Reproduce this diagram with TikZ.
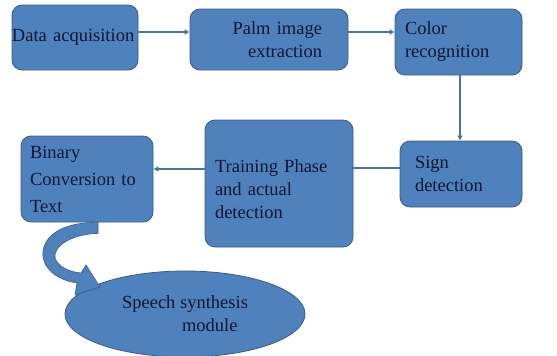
\documentclass[tikz,border=0pt]{standalone}
\usepackage{fontspec}
\setmainfont{Liberation Serif}
\usepackage{tikz}
\usetikzlibrary{shapes.geometric, arrows.meta}
\definecolor{boxblue}{RGB}{79,129,189}
\definecolor{boxedge}{RGB}{56,93,138}
\definecolor{arrowblue}{RGB}{70,115,170}
\definecolor{textnavy}{RGB}{14,22,52}

\begin{document}
\begin{tikzpicture}[x=1pt, y=-1pt,
        stagebox/.style={rectangle, rounded corners=10pt, fill=boxblue, draw=boxedge,
            line width=0.8pt, inner sep=0pt, text=textnavy,
            font=\fontsize{18.5}{23}\selectfont},
        flowline/.style={draw=arrowblue, line width=2.4pt},
        flowarrow/.style={flowline, -{Latex[length=5pt,width=6pt]}}
    ]
        % page frame of the reference
        \useasboundingbox (0,0) rectangle (557,356);

        % Stages, top row
        \node[stagebox, minimum width=126pt, minimum height=65pt, text width=126pt, align=left]
            (acq) at (75,37.5) {Data acquisition};
        \node[stagebox, minimum width=158pt, minimum height=61pt, text width=106pt, align=right]
            (palm) at (269,39.5) {Palm image\\extraction};
        \node[stagebox, minimum width=127pt, minimum height=66pt, text width=107pt, align=left]
            (color) at (458.5,42) {Color\\recognition};

        % Stages, second row
        \node[stagebox, minimum width=122pt, minimum height=66pt, text width=92pt, align=left]
            (sign) at (461,174) {Sign\\detection};
        \node[stagebox, minimum width=148pt, minimum height=127pt, text width=128pt, align=left,
            text depth=34pt]
            (train) at (279,183.5) {Training Phase\\and actual\\detection};
        \node[stagebox, minimum width=132pt, minimum height=86pt, text width=114pt, align=left,
            font=\fontsize{18.5}{27}\selectfont]
            (binary) at (87,179) {Binary\\Conversion to\\Text};

        % Output
        \node[stagebox, ellipse, minimum width=240pt, minimum height=86pt, align=left]
            (speech) at (185,314) {Speech synthesis\\\hspace*{60pt}module};

        % Connectors
        \draw[flowarrow] ([yshift=5.5pt]acq.east) -- ([yshift=5.5pt]acq.east -| palm.west);
        \draw[flowarrow] ([yshift=7.5pt]palm.east) -- ([yshift=7.5pt]palm.east -| color.west);
        \draw[flowarrow] ([xshift=1.5pt]color.south) -- ([xshift=1.5pt]color.south |- sign.north);
        \draw[flowline] ([yshift=6pt]sign.west) -- ([yshift=6pt]sign.west -| train.east);
        \draw[flowarrow] ([yshift=14.5pt]train.west) -- ([yshift=14.5pt]train.west -| binary.east);

        % Curved block arrow down to the speech module
        \coordinate (cA) at (binary.south -| 98,0);
        \filldraw[fill=boxblue, draw=boxedge, line width=0.6pt]
            (cA) -- ++(0,11)
            .. controls (72,234) and (53,246) .. (55,258)
            .. controls (58,267) and (70,272) .. (81,273)
            -- (86,265) -- (100,287) -- (75,295) -- (77,283)
            .. controls (56,280) and (41,267) .. (43,251)
            .. controls (46,232) and (68,222) .. (cA) -- cycle;
    \end{tikzpicture}
\end{document}
